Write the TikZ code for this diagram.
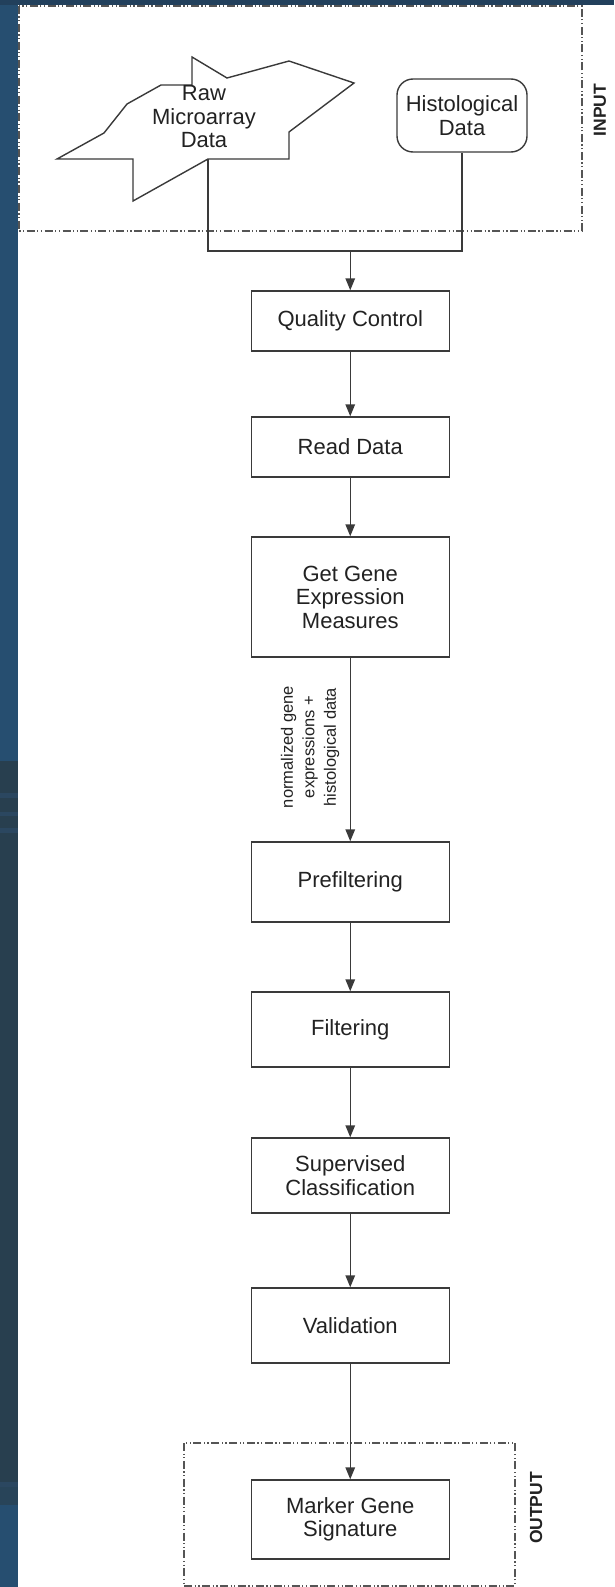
\documentclass[tikz,border=0pt]{standalone}
\usepackage{fontspec}
\setmainfont{Liberation Sans}
\usetikzlibrary{arrows.meta}
\definecolor{slideblue}{HTML}{264E70}
\definecolor{slidedark}{HTML}{283F4F}
\definecolor{slideband}{HTML}{2B4760}
\definecolor{topband}{HTML}{22405C}
\definecolor{ink}{HTML}{222222}
\definecolor{frame}{HTML}{3A3A3A}
\definecolor{groupline}{HTML}{555555}
\tikzset{
  stepbox/.style={draw=frame, line width=1.4pt, fill=white, minimum width=198pt,
    align=center, text=ink, font=\fontsize{22}{23.5}\selectfont, inner sep=0pt},
  link/.style={draw=frame, line width=1.4pt},
  arrowlink/.style={link, -{Triangle[length=12pt,width=9.5pt]}},
  groupbox/.style={draw=groupline, line width=1.2pt,
    dash pattern=on 8pt off 2.5pt on 1.2pt off 2.5pt on 1.2pt off 2.5pt},
  grouplabel/.style={rotate=90, text=ink, font=\fontsize{17.5}{18}\selectfont\bfseries}
}
\begin{document}
\begin{tikzpicture}[x=1pt, y=-1pt]
\useasboundingbox (0,0) rectangle (614,1587);
% slide background strips
\fill[slideblue] (0,0) rectangle (18,761);
\fill[slidedark] (0,761) rectangle (18,1482);
\fill[slideband] (0,793) rectangle (18,798);
\fill[slideband] (0,812) rectangle (18,816);
\fill[slideband] (0,828) rectangle (18,833);
\fill[slideband] (0,1482) rectangle (18,1487);
\fill[slidedark!70!slideblue] (0,1487) rectangle (18,1505);
\fill[slideblue] (0,1505) rectangle (18,1587);
\fill[topband] (0,0) rectangle (614,5);

% input group
\draw[groupbox] (19,6) rectangle (582,231);
\node[grouplabel] (inlabel) at (600,110) {INPUT};

% raw microarray data shape
\draw[link, line join=miter, fill=white] (57,159) -- (104,133) -- (127,104) -- (161,85) -- (192,85)
  -- (192,57) -- (227,78) -- (289,61) -- (354,83) -- (289,132) -- (289,159)
  -- (208,159) -- (133,201) -- (133,159) -- cycle;
\coordinate (rawb) at (208,159);
\node[align=center, text=ink, font=\fontsize{22}{23.5}\selectfont] (raw) at (204,117)
  {Raw\\Microarray\\Data};

% histological data
\node[draw=frame, line width=1.4pt, rounded corners=16pt, minimum width=130pt,
  minimum height=73pt, align=center, text=ink, font=\fontsize{22}{23.5}\selectfont,
  inner sep=0pt] (hist) at (462,115.5) {Histological\\Data};

% pipeline steps
\node[stepbox, minimum height=60pt] (qc) at (350.25,321) {Quality Control};
\node[stepbox, minimum height=60pt] (rd) at (350.25,447) {Read Data};
\node[stepbox, minimum height=120pt] (gg) at (350.25,597) {Get Gene\\Expression\\Measures};
\node[stepbox, minimum height=80pt] (pf) at (350.25,882) {Prefiltering};
\node[stepbox, minimum height=75pt] (fl) at (350.25,1029.5) {Filtering};
\node[stepbox, minimum height=75pt] (sc) at (350.25,1175.5) {Supervised\\Classification};
\node[stepbox, minimum height=75pt] (va) at (350.25,1325.5) {Validation};

% output group
\draw[groupbox] (184,1443) rectangle (515,1586);
\node[grouplabel] (outlabel) at (536,1508) {OUTPUT};
\node[stepbox, minimum height=79pt] (mg) at (350.25,1519.5) {Marker Gene\\Signature};

% connectors
\coordinate (join) at (350.25,251);
\draw[link] (rawb) |- (join) -| (hist.south);
\draw[arrowlink] (join) -- (qc.north);
\draw[arrowlink] (qc) -- (rd);
\draw[arrowlink] (rd) -- (gg);
\draw[arrowlink] (gg) -- (pf);
\node[rotate=90, align=center, text=ink, font=\fontsize{16.5}{21.5}\selectfont]
  (flowlabel) at (310,747) {normalized gene\\expressions +\\histological data};
\draw[arrowlink] (pf) -- (fl);
\draw[arrowlink] (fl) -- (sc);
\draw[arrowlink] (sc) -- (va);
\draw[arrowlink] (va) -- (mg);
\end{tikzpicture}
\end{document}
